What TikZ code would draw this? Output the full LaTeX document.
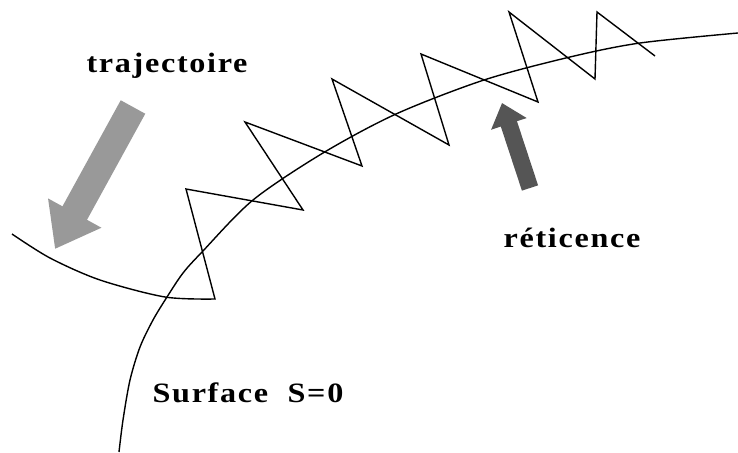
\documentclass[tikz,border=0pt]{standalone}
\usepackage{fontspec}
\setmainfont{Liberation Serif}
\usetikzlibrary{arrows.meta}
\definecolor{trajgray}{RGB}{153,153,153}
\definecolor{retgray}{RGB}{85,85,85}

\begin{document}
\begin{tikzpicture}[x=1pt, y=-1pt,
  curve/.style={line width=1.4pt, black, line join=miter},
  lbl/.style={font=\bfseries\fontsize{28}{33}\selectfont\addfontfeature{FakeStretch=1.15,LetterSpace=6},
              anchor=base, inner sep=0pt}
]
\useasboundingbox (0,0) rectangle (738,452);

% Surface S=0
\draw[curve] plot[smooth, tension=0.5] coordinates {(119,452) (123,420) (130,380) (140,347)
  (153,320) (167,297) (183,273) (202,252) (253,200) (323,153) (396,114) (484,80)
  (570,57) (640,43) (738,33)};

% Trajectory with chattering
\draw[curve] plot[smooth, tension=0.5] coordinates {(12,234) (50,258) (100,280) (165,297) (215,299)}
  -- (186,189) -- (303,210) -- (245,122) -- (362,166) -- (332,79)
  -- (449,145) -- (421,54) -- (538,102) -- (509,12) -- (595,79)
  -- (597,12) -- (655,56);

% Pointers
\coordinate (trajTail) at (133,107);
\coordinate (trajTip)  at (55,249);
\coordinate (retTail)  at (530,188);
\coordinate (retTip)   at (502,103);
\draw[trajgray, line width=28pt, -{Triangle[length=41pt, width=58pt]}] (trajTail) -- (trajTip);
\draw[retgray,  line width=17pt, -{Triangle[length=22pt, width=36pt]}] (retTail) -- (retTip);

% Labels
\node[lbl] (traj) at (167,72)  {trajectoire};
\node[lbl] (ret)  at (572,247) {réticence};
\node[lbl] (surf) at (248,402) {Surface\ \ S=0};
\end{tikzpicture}
\end{document}
